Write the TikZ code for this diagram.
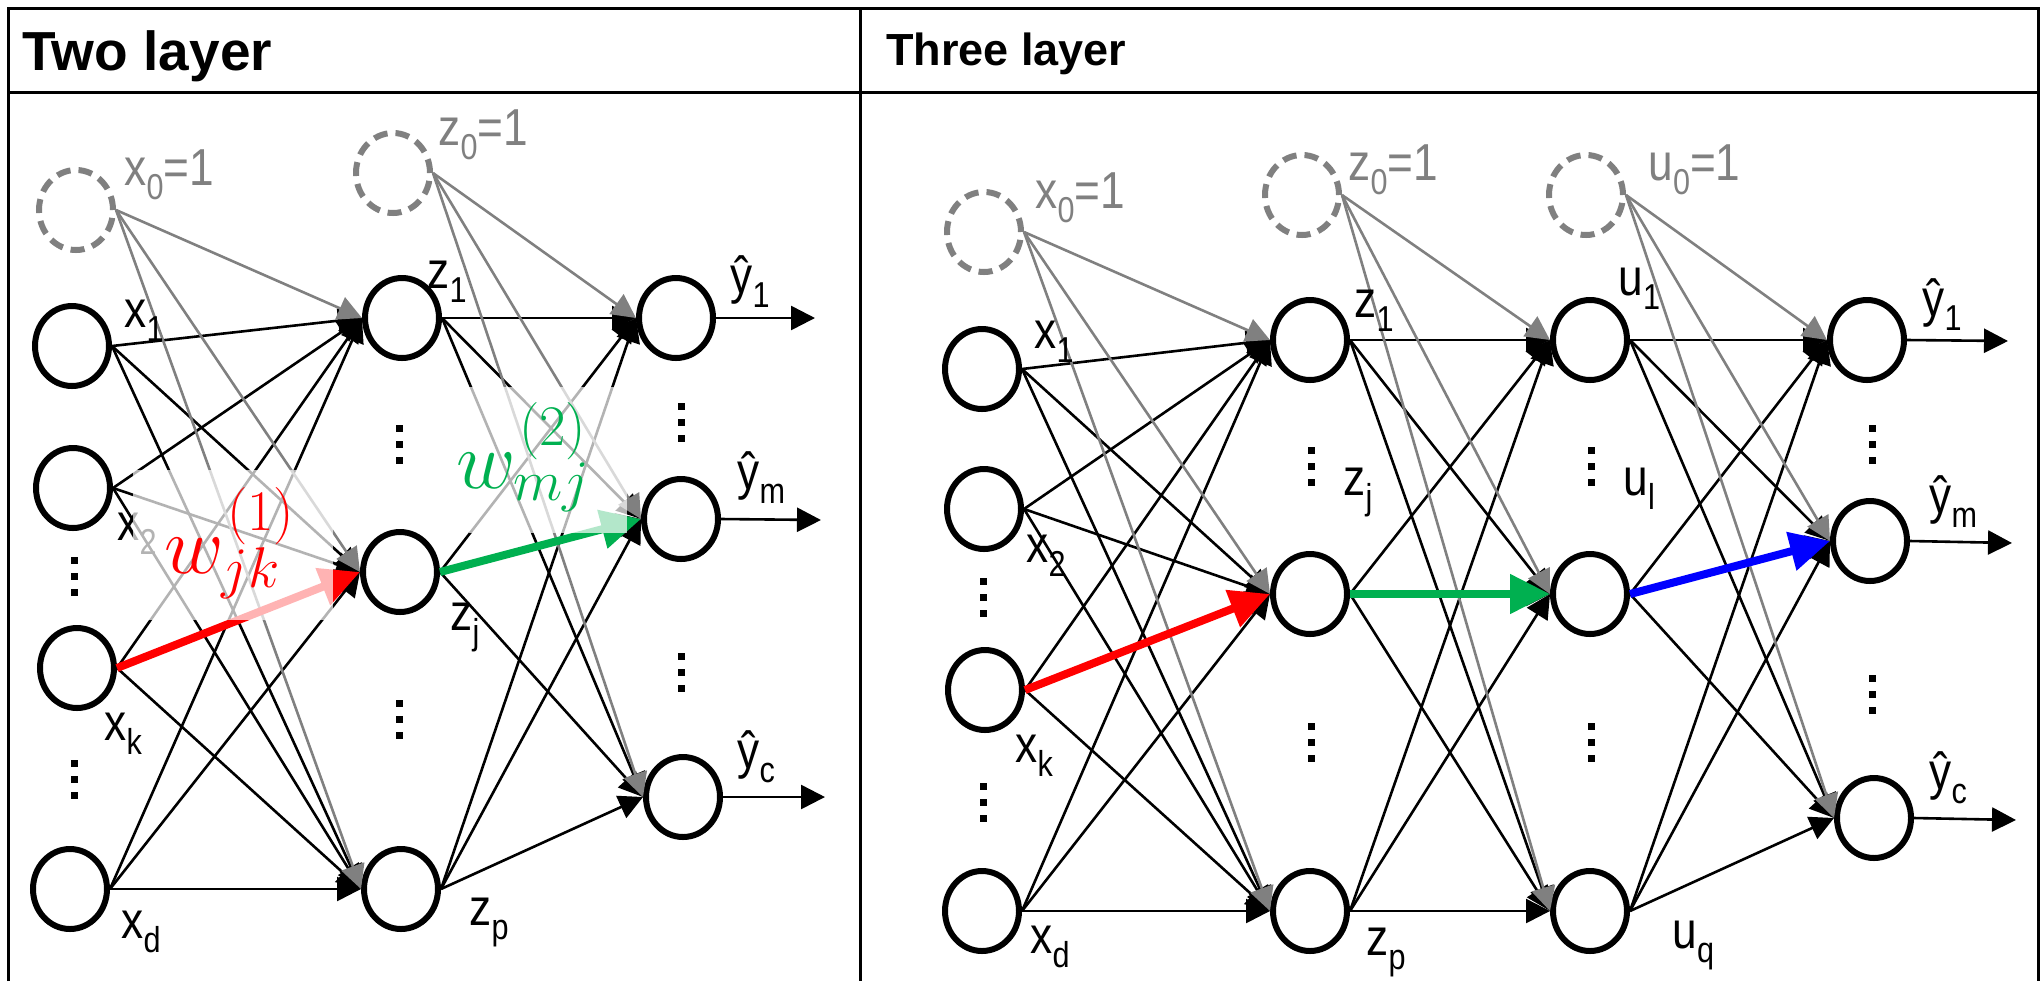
\documentclass[tikz,border=0pt]{standalone}
\usepackage{fix-cm}
\usepackage{fontspec}
\setmainfont{Liberation Sans}
\newfontfamily\narrowsans[FakeStretch=0.85]{Liberation Sans}
\usetikzlibrary{arrows.meta,shapes.geometric}
\definecolor{biasgray}{RGB}{128,128,128}
\definecolor{wred}{RGB}{255,0,0}
\definecolor{wgreen}{RGB}{0,176,80}
\definecolor{wblue}{RGB}{0,0,255}
% subscript used in the node labels
\newcommand\lsub[1]{\raisebox{-7pt}{\fontsize{18pt}{18pt}\selectfont #1}}
\begin{document}
\begin{tikzpicture}[x=0.5pt,y=-0.5pt,
  neuron/.style={ellipse, draw=black, line width=3pt, minimum width=37pt,
    minimum height=40pt, inner sep=0pt},
  bias/.style={neuron, draw=biasgray, dash pattern=on 7pt off 4pt},
  lab/.style={anchor=base west, inner sep=0pt, font=\narrowsans\fontsize{26pt}{26pt}\selectfont},
  blab/.style={lab, text=biasgray},
  edge/.style={line width=1.3pt, draw=black, -{Triangle[length=12pt,width=12pt]}},
  gedge/.style={edge, draw=biasgray},
  carrow/.style={line width=4pt, -{Triangle[length=20pt,width=19pt]}},
  title/.style={anchor=base west, inner sep=0pt},
  wlab/.style={anchor=base west, inner sep=0pt, font=\fontsize{41pt}{41pt}\selectfont},
  haze/.style={fill=white, fill opacity=0.7}
]
\useasboundingbox (0,0) rectangle (2044,981);

% frame of the table
\draw[line width=1.5pt] (8,981) -- (8,8) -- (2038,8) -- (2038,981);
\draw[line width=1.5pt] (8,92) -- (2038,92);
\draw[line width=1.5pt] (860,8) -- (860,981);

\node[title, font=\bfseries\fontsize{27.5pt}{27.5pt}\selectfont] (t2) at (22,70) {Two layer};
\node[title, font=\bfseries\fontsize{22.5pt}{22.5pt}\selectfont] (t3) at (886,65) {Three layer};

% ---------------- two-layer network ----------------
\node[bias] (Lx0) at (76,210) {};
\node[bias] (Lz0) at (393,173) {};
\node[neuron] (Lx1) at (72,346) {};
\node[neuron] (Lx2) at (73,488) {};
\node[neuron] (Lxk) at (77,668) {};
\node[neuron] (Lxd) at (70,889) {};
\node[neuron] (Lz1) at (402,318) {};
\node[neuron] (Lzj) at (400,572) {};
\node[neuron] (Lzp) at (401,889) {};
\node[neuron] (Ly1) at (676,318) {};
\node[neuron] (Lym) at (681,519) {};
\node[neuron] (Lyc) at (683,797) {};
\coordinate (Lo1) at (815,318);
\coordinate (Lom) at (821,520);
\coordinate (Loc) at (825,797);

\foreach \s in {Lx1,Lx2,Lxk,Lxd}
  \foreach \t in {Lz1,Lzj,Lzp}
    \draw[edge] (\s.east) -- (\t.west);
\foreach \s in {Lz1,Lzj,Lzp}
  \foreach \t in {Ly1,Lym,Lyc}
    \draw[edge] (\s.east) -- (\t.west);
\foreach \t in {Lz1,Lzj,Lzp} \draw[gedge] (Lx0.east) -- (\t.west);
\foreach \t in {Ly1,Lym,Lyc} \draw[gedge] (Lz0.east) -- (\t.west);
\draw[edge] (Ly1.east) -- (Lo1);
\draw[edge] (Lym.east) -- (Lom);
\draw[edge] (Lyc.east) -- (Loc);
\draw[carrow, wred] (Lxk.east) -- (Lzj.west);
\draw[carrow, wgreen] (Lzj.east) -- (Lym.west);

\node[blab] (Lx0t) at (124,185) {x\lsub{0}=1};
\node[blab] (Lz0t) at (438,145) {z\lsub{0}=1};
\node[lab] (Lx1t) at (124,327) {x\lsub{1}};
\node[lab] (Lx2t) at (117,540) {x\lsub{2}};
\node[lab] (Lxkt) at (104,740) {x\lsub{k}};
\node[lab] (Lxdt) at (121,938) {x\lsub{d}};
\node[lab] (Lz1t) at (427,288) {z\lsub{1}};
\node[lab] (Lzjt) at (450,630) {z\lsub{j}};
\node[lab] (Lzpt) at (469,925) {z\lsub{p}};
\node[lab] (Ly1t) at (730,293) {ŷ\lsub{1}};
\node[lab] (Lymt) at (737,489) {ŷ\lsub{m}};
\node[lab] (Lyct) at (737,768) {ŷ\lsub{c}};

% vertical ellipses between the units
\foreach \x/\y in {74/557, 74/760, 399/425, 399/700, 681/403, 681/653,
                   983/578, 983/783, 1311/447, 1311/723, 1591/447, 1591/723,
                   1872/425, 1872/675}
  \foreach \k in {0,1,2}
    \fill (\x-3.5,\y+\k*16) rectangle ++(7,7);

% light backing behind the weight labels
\fill[haze] (133,470) rectangle (333,620);
\fill[haze] (469,387) rectangle (627,533);
\node[wlab, text=wred] (w1) at (164,573) {$w^{\kern0.04em(1)}_{jk}$};
\node[wlab, text=wgreen] (w2) at (456,488) {$w^{\kern0.04em(2)}_{mj}$};

% ---------------- three-layer network ----------------
\node[bias] (Rx0) at (984,232) {};
\node[bias] (Rz0) at (1302,195) {};
\node[bias] (Ru0) at (1586,195) {};
\node[neuron] (Rx1) at (982,369) {};
\node[neuron] (Rx2) at (984,509) {};
\node[neuron] (Rxk) at (985,690) {};
\node[neuron] (Rxd) at (982,911) {};
\node[neuron] (Rz1) at (1310,340) {};
\node[neuron] (Rzj) at (1310,594) {};
\node[neuron] (Rzp) at (1310,911) {};
\node[neuron] (Ru1) at (1590,340) {};
\node[neuron] (Rul) at (1590,594) {};
\node[neuron] (Ruq) at (1590,911) {};
\node[neuron] (Ry1) at (1867,340) {};
\node[neuron] (Rym) at (1870,541) {};
\node[neuron] (Ryc) at (1874,818) {};
\coordinate (Ro1) at (2008,341);
\coordinate (Rom) at (2012,543);
\coordinate (Roc) at (2016,820);

\foreach \s in {Rx1,Rx2,Rxk,Rxd}
  \foreach \t in {Rz1,Rzj,Rzp}
    \draw[edge] (\s.east) -- (\t.west);
\foreach \s in {Rz1,Rzj,Rzp}
  \foreach \t in {Ru1,Rul,Ruq}
    \draw[edge] (\s.east) -- (\t.west);
\foreach \s in {Ru1,Rul,Ruq}
  \foreach \t in {Ry1,Rym,Ryc}
    \draw[edge] (\s.east) -- (\t.west);
\foreach \t in {Rz1,Rzj,Rzp} \draw[gedge] (Rx0.east) -- (\t.west);
\foreach \t in {Ru1,Rul,Ruq} \draw[gedge] (Rz0.east) -- (\t.west);
\foreach \t in {Ry1,Rym,Ryc} \draw[gedge] (Ru0.east) -- (\t.west);
\draw[edge] (Ry1.east) -- (Ro1);
\draw[edge] (Rym.east) -- (Rom);
\draw[edge] (Ryc.east) -- (Roc);
\draw[carrow, wred] (Rxk.east) -- (Rzj.west);
\draw[carrow, wgreen] (Rzj.east) -- (Rul.west);
\draw[carrow, wblue] (Rul.east) -- (Rym.west);

\node[blab] (Rx0t) at (1035,208) {x\lsub{0}=1};
\node[blab] (Rz0t) at (1348,180) {z\lsub{0}=1};
\node[blab] (Ru0t) at (1648,180) {u\lsub{0}=1};
\node[lab] (Rx1t) at (1034,348) {x\lsub{1}};
\node[lab] (Rx2t) at (1026,562) {x\lsub{2}};
\node[lab] (Rxkt) at (1015,762) {x\lsub{k}};
\node[lab] (Rxdt) at (1030,953) {x\lsub{d}};
\node[lab] (Rz1t) at (1354,317) {z\lsub{1}};
\node[lab] (Rzjt) at (1343,495) {z\lsub{j}};
\node[lab] (Rzpt) at (1366,955) {z\lsub{p}};
\node[lab] (Ru1t) at (1618,295) {u\lsub{1}};
\node[lab] (Rult) at (1623,495) {u\lsub{l}};
\node[lab] (Ruqt) at (1672,948) {u\lsub{q}};
\node[lab] (Ry1t) at (1922,316) {ŷ\lsub{1}};
\node[lab] (Rymt) at (1929,513) {ŷ\lsub{m}};
\node[lab] (Ryct) at (1929,789) {ŷ\lsub{c}};
\end{tikzpicture}
\end{document}
